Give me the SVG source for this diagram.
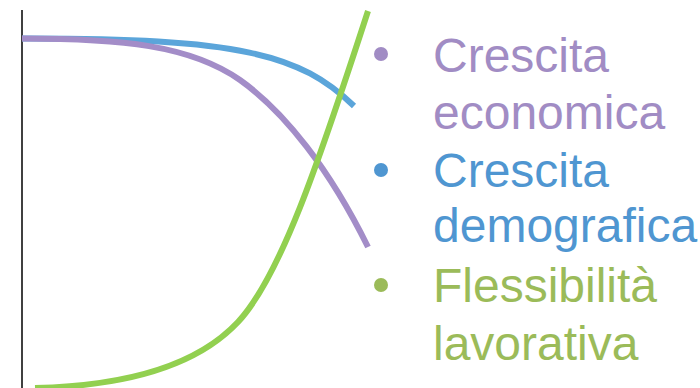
<svg xmlns="http://www.w3.org/2000/svg" width="700" height="388" viewBox="0 0 700 388">
<style>
.c{fill:none;stroke-width:6;stroke-linecap:butt}
.t{font-family:"Liberation Sans",Arial,sans-serif;font-size:48px}
</style>
<rect width="700" height="388" fill="#fff"/>
<g id="axis"><line x1="22" y1="10" x2="22" y2="388" stroke="#000" stroke-width="1.5"/></g>
<g id="connectors">
<path id="blue-curve" class="c" stroke="#5BA5DA" d="M22,38.5 C240,38 300,54 354,106"/>
<path id="purple-curve" class="c" stroke="#A38DC8" d="M22,38.5 C120,38.5 190,45 240,80 C285,112 330,170 368,247"/>
<path id="green-curve" class="c" stroke="#92D050" d="M35,388 C120,386 195,368 238,322 C280,277 318,165 368,11"/>
</g>
<g id="legend-1">
<circle cx="381" cy="54" r="7" fill="#A18CC4"/>
<text class="t" x="433" y="72" fill="#A18CC4">Crescita</text>
<text class="t" x="433" y="129" fill="#A18CC4">economica</text>
</g>
<g id="legend-2">
<circle cx="381" cy="170" r="7" fill="#4F96D1"/>
<text class="t" x="433" y="187" fill="#4F96D1">Crescita</text>
<text class="t" x="433" y="242" fill="#4F96D1">demografica</text>
</g>
<g id="legend-3">
<circle cx="381" cy="285" r="7" fill="#9BBB59"/>
<text class="t" x="433" y="302" fill="#9BBB59">Flessibilità</text>
<text class="t" x="433" y="360" fill="#9BBB59">lavorativa</text>
</g>
</svg>
